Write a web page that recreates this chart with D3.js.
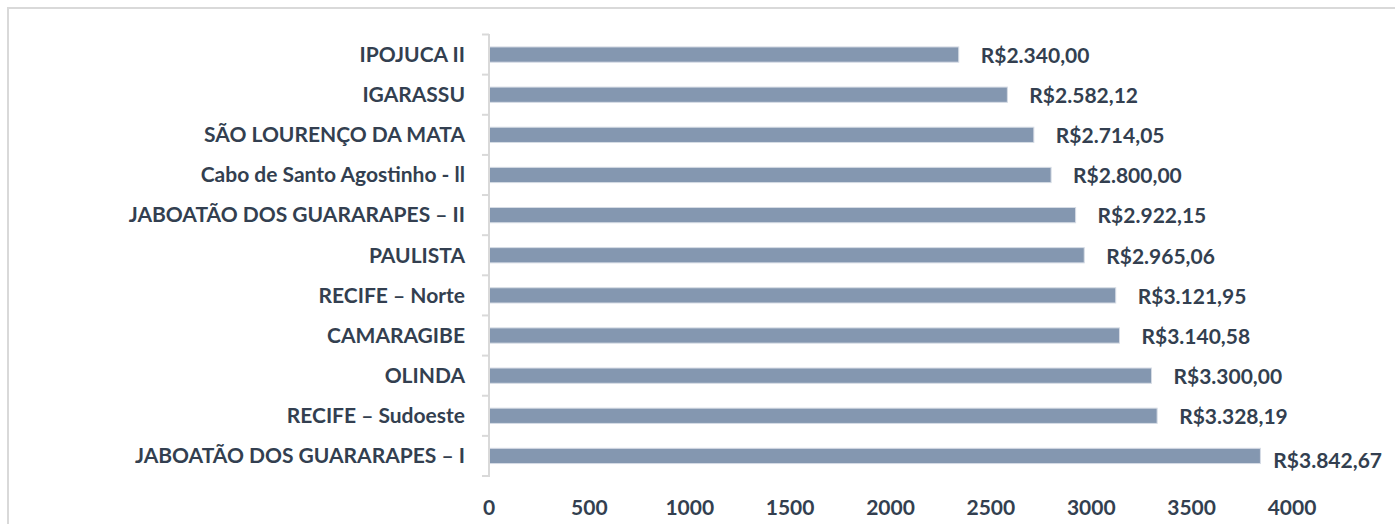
<!DOCTYPE html>
<html>
<head>
<meta charset="utf-8">
<script src="https://cdn.jsdelivr.net/npm/d3@7"></script>
<style>
body { margin: 0; background: #fff; }
text { font-family: Lato, "Open Sans", sans-serif; font-weight: bold; fill: #333f50; }
</style>
</head>
<body>
<svg id="chart" width="1395" height="524"></svg>
<script>
// categories top to bottom, as shown
var categories = ["IPOJUCA II", "IGARASSU", "SÃO LOURENÇO DA MATA", "Cabo de Santo Agostinho - ll",
  "JABOATÃO DOS GUARARAPES – II", "PAULISTA", "RECIFE – Norte", "CAMARAGIBE", "OLINDA",
  "RECIFE – Sudoeste", "JABOATÃO DOS GUARARAPES – I"];
var values = [2340.00, 2582.12, 2714.05, 2800.00, 2922.15, 2965.06, 3121.95, 3140.58, 3300.00, 3328.19, 3842.67];
var xTicks = [0, 500, 1000, 1500, 2000, 2500, 3000, 3500, 4000];

var svg = d3.select("#chart");

// outer frame (right and bottom fall outside the picture)
svg.append("rect")
  .attr("x", 8).attr("y", 8).attr("width", 1400).attr("height", 530)
  .attr("fill", "none").attr("stroke", "#d9d9d9").attr("stroke-width", 2);

var x = d3.scaleLinear().domain([0, 4000]).range([489, 1292]);
var y = d3.scaleBand().domain(categories).range([34.5, 476]).paddingInner(0.62).paddingOuter(0.31);

function brl(v){
  var parts = v.toFixed(2).split(".");
  var intPart = parts[0].replace(/\B(?=(\d{3})+(?!\d))/g, ".");
  return "R$" + intPart + "," + parts[1];
}

// bars
svg.selectAll("rect.bar")
  .data(values)
  .enter()
  .append("rect")
  .attr("class", "bar")
  .attr("x", x(0))
  .attr("y", function(d, i){ return y(categories[i]); })
  .attr("width", function(d){ return x(d) - x(0); })
  .attr("height", y.bandwidth())
  .attr("fill", "#8497b0")
  .attr("stroke", "#d6dce5")
  .attr("stroke-width", 1);

// y axis line + Excel-style ticks at band edges
svg.append("line")
  .attr("x1", 489).attr("x2", 489).attr("y1", 34).attr("y2", 477)
  .attr("stroke", "#d9d9d9").attr("stroke-width", 2);
var step = (476 - 34.5) / categories.length;
d3.range(categories.length + 1).forEach(function(i){
  svg.append("line")
    .attr("x1", 482).attr("x2", 489)
    .attr("y1", 34.5 + i * step).attr("y2", 34.5 + i * step)
    .attr("stroke", "#d9d9d9").attr("stroke-width", 2);
});

// category labels
svg.selectAll("text.cat")
  .data(categories)
  .enter()
  .append("text")
  .attr("class", "cat")
  .attr("x", 465)
  .attr("y", function(d){ return y(d) + y.bandwidth() / 2; })
  .attr("dy", "0.35em")
  .attr("text-anchor", "end")
  .style("font-size", "21px")
  .text(function(d){ return d; });

// value labels
var limit = 1382;
svg.selectAll("text.val")
  .data(values)
  .enter()
  .append("text")
  .attr("class", "val")
  .attr("y", function(d, i){ return y(categories[i]) + y.bandwidth() / 2 + 1; })
  .attr("dy", "0.35em")
  .style("font-size", "21px")
  .text(function(d){ return brl(d); })
  .each(function(d){
    var w = this.getComputedTextLength();
    var px = x(d) + 22;
    if(px + w > limit){
      px = limit - w;
      d3.select(this).attr("y", +d3.select(this).attr("y") + 4);
    }
    d3.select(this).attr("x", px);
  });

// x tick labels
svg.selectAll("text.xt")
  .data(xTicks)
  .enter()
  .append("text")
  .attr("class", "xt")
  .attr("x", function(d){ return x(d); })
  .attr("y", 515)
  .attr("text-anchor", "middle")
  .style("font-size", "21px")
  .text(function(d){ return d; });
</script>
</body>
</html>
